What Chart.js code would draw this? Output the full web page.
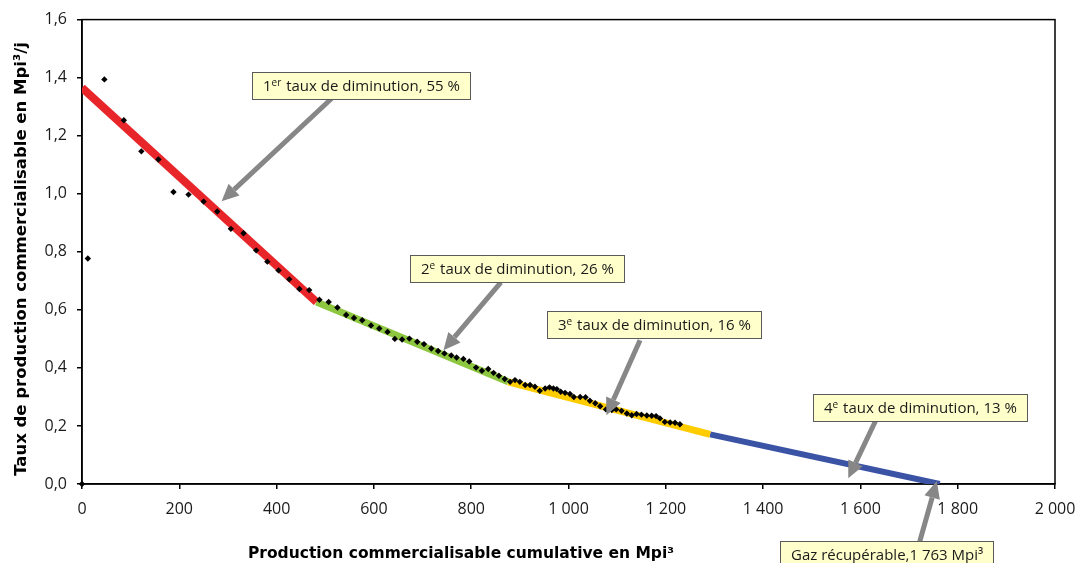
<!DOCTYPE html>
<html>
<head>
<meta charset="utf-8">
<title>Taux de production commercialisable</title>
<script src="https://cdn.jsdelivr.net/npm/chart.js@4.4.1/dist/chart.umd.min.js"></script>
<style>
  html, body { margin: 0; padding: 0; background: #ffffff; }
  canvas { display: block; }
</style>
</head>
<body>
<canvas id="declineChart" width="1087" height="563"></canvas>
<script>
// Observed points: cumulative production (Mpi³) vs production rate (Mpi³/j)
const cumulProd = [
  0, 12, 46, 86, 122, 157, 188, 219, 250, 278, 306, 332, 358, 381, 404, 426, 447, 467,
  488, 507, 525, 543, 559, 576, 594, 611, 628, 643, 658, 673, 689, 703, 718, 732, 745,
  759, 770, 784, 796, 810, 822, 835, 846, 857, 869, 880, 890, 900, 911, 921, 931, 941,
  952, 961, 969, 976, 984, 993, 1003, 1011, 1024, 1035, 1044, 1055, 1065, 1077, 1089,
  1098, 1109, 1120, 1130, 1140, 1150, 1161, 1171, 1180, 1188, 1198, 1209, 1219, 1229
];
const prodRate = [
  0, 0.777, 1.394, 1.253, 1.146, 1.118, 1.006, 0.997, 0.973, 0.939, 0.879, 0.864, 0.805,
  0.766, 0.736, 0.705, 0.672, 0.668, 0.635, 0.627, 0.608, 0.582, 0.572, 0.564, 0.546,
  0.536, 0.524, 0.500, 0.498, 0.501, 0.490, 0.482, 0.467, 0.458, 0.450, 0.443, 0.436,
  0.431, 0.422, 0.401, 0.390, 0.396, 0.383, 0.373, 0.362, 0.352, 0.358, 0.352, 0.341,
  0.341, 0.335, 0.321, 0.329, 0.333, 0.329, 0.327, 0.318, 0.314, 0.310, 0.300, 0.300,
  0.299, 0.287, 0.278, 0.268, 0.257, 0.255, 0.257, 0.252, 0.243, 0.237, 0.241, 0.239,
  0.236, 0.235, 0.234, 0.226, 0.214, 0.212, 0.211, 0.206
];

// Fitted decline segments (end points)
const decline1X = [0, 482];
const decline1Y = [1.365, 0.627];
const decline2X = [482, 876];
const decline2Y = [0.627, 0.352];
const decline3X = [876, 1291];
const decline3Y = [0.352, 0.171];
const decline4X = [1291, 1763];
const decline4Y = [0.171, 0];

// Axis ticks
const xTicks = [0, 200, 400, 600, 800, 1000, 1200, 1400, 1600, 1800, 2000];
const xTickLabels = ['0', '200', '400', '600', '800', '1 000', '1 200', '1 400', '1 600', '1 800', '2 000'];
const yTicks = [0, 0.2, 0.4, 0.6, 0.8, 1.0, 1.2, 1.4, 1.6];
const yTickLabels = ['0,0', '0,2', '0,4', '0,6', '0,8', '1,0', '1,2', '1,4', '1,6'];

const xTitle = 'Production commercialisable cumulative en Mpi³';
const yTitle = 'Taux de production commercialisable en Mpi³/j';

// Callouts: text parts [text, superscript?], box top-left, arrow start and tip (data units)
const callouts = [
  { parts: [['1', false], ['er', true], [' taux de diminution, 55 %', false]],
    box: [349, 1.421], from: [513, 1.328], to: [287, 0.974] },
  { parts: [['2', false], ['e', true], [' taux de diminution, 26 %', false]],
    box: [674, 0.788], from: [861, 0.695], to: [743, 0.461] },
  { parts: [['3', false], ['e', true], [' taux de diminution, 16 %', false]],
    box: [955, 0.595], from: [1147, 0.495], to: [1078, 0.237] },
  { parts: [['4', false], ['e', true], [' taux de diminution, 13 %', false]],
    box: [1503, 0.310], from: [1631, 0.217], to: [1575, 0.020] },
  { parts: [['Gaz récupérable,1 763 Mpi³', false]],
    box: [1435, -0.198], from: [1722, -0.198], to: [1757, 0.010] }
];

const FONT = '"Open Sans", Lato, sans-serif';
const TITLE_FONT = '"DejaVu Sans", "Open Sans", sans-serif';

function toPoints(xs, ys) {
  return xs.map((v, i) => ({ x: v, y: ys[i] }));
}

function drawArrow(ctx, x1, y1, x2, y2) {
  const ang = Math.atan2(y2 - y1, x2 - x1);
  const headLen = 17;
  const headHalf = 8;
  const bx = x2 - headLen * Math.cos(ang);
  const by = y2 - headLen * Math.sin(ang);
  ctx.strokeStyle = '#878787';
  ctx.fillStyle = '#878787';
  ctx.lineWidth = 5;
  ctx.lineCap = 'butt';
  ctx.beginPath();
  ctx.moveTo(x1, y1);
  ctx.lineTo(bx, by);
  ctx.stroke();
  ctx.beginPath();
  ctx.moveTo(x2, y2);
  ctx.lineTo(bx + headHalf * Math.sin(ang), by - headHalf * Math.cos(ang));
  ctx.lineTo(bx - headHalf * Math.sin(ang), by + headHalf * Math.cos(ang));
  ctx.closePath();
  ctx.fill();
}

function drawCallout(ctx, left, top, parts) {
  const baseFont = '15px ' + FONT;
  const supFont = '10px ' + FONT;
  let w = 0;
  parts.forEach(p => {
    ctx.font = p[1] ? supFont : baseFont;
    w += ctx.measureText(p[0]).width + (p[1] ? 1 : 0);
  });
  const h = 27;
  const boxW = Math.round(w + 21);
  ctx.fillStyle = '#ffffcc';
  ctx.fillRect(left, top, boxW, h);
  ctx.strokeStyle = '#5a5a5a';
  ctx.lineWidth = 1;
  ctx.strokeRect(left + 0.5, top + 0.5, boxW, h);
  let tx = left + 11;
  const baseY = top + 19;
  ctx.fillStyle = '#1a1a1a';
  ctx.textBaseline = 'alphabetic';
  ctx.textAlign = 'left';
  parts.forEach(p => {
    ctx.font = p[1] ? supFont : baseFont;
    ctx.fillText(p[0], tx, p[1] ? baseY - 5 : baseY);
    tx += ctx.measureText(p[0]).width + (p[1] ? 1 : 0);
  });
}

// Frame around the plot area
const framePlugin = {
  id: 'frame',
  beforeDatasetsDraw(chart) {
    const { ctx, chartArea: a } = chart;
    ctx.save();
    ctx.strokeStyle = '#000';
    ctx.lineWidth = 1.5;
    ctx.strokeRect(a.left, a.top, a.right - a.left, a.bottom - a.top);
    ctx.restore();
  }
};

// Arrows, callout boxes and axis titles
const calloutPlugin = {
  id: 'callouts',
  afterDatasetsDraw(chart) {
    const { ctx, scales: { x, y } } = chart;
    ctx.save();
    callouts.forEach(c => {
      drawArrow(ctx,
        x.getPixelForValue(c.from[0]), y.getPixelForValue(c.from[1]),
        x.getPixelForValue(c.to[0]), y.getPixelForValue(c.to[1]));
    });
    callouts.forEach(c => {
      drawCallout(ctx, Math.round(x.getPixelForValue(c.box[0])), Math.round(y.getPixelForValue(c.box[1])), c.parts);
    });
    ctx.restore();
  },
  afterDraw(chart) {
    const { ctx } = chart;
    ctx.save();
    ctx.fillStyle = '#000';
    ctx.textAlign = 'center';
    ctx.textBaseline = 'alphabetic';
    ctx.font = 'bold 15.5px ' + TITLE_FONT;
    ctx.fillText(xTitle, 461, 558);
    ctx.font = 'bold 16.5px ' + TITLE_FONT;
    ctx.translate(26, 259);
    ctx.rotate(-Math.PI / 2);
    ctx.fillText(yTitle, 0, 0);
    ctx.restore();
  }
};

const ctx = document.getElementById('declineChart').getContext('2d');
const declineChart = new Chart(ctx, {
  type: 'scatter',
  data: {
    datasets: [
      {
        label: 'Données',
        data: toPoints(cumulProd, prodRate),
        pointStyle: 'rectRot',
        pointRadius: 3.2,
        backgroundColor: '#000',
        borderColor: '#000',
        borderWidth: 0,
        showLine: false,
        clip: false,
        order: 0
      },
      {
        label: '1er taux',
        data: toPoints(decline1X, decline1Y),
        showLine: true,
        borderColor: '#e8262a',
        borderWidth: 8,
        pointRadius: 0,
        order: 1
      },
      {
        label: '2e taux',
        data: toPoints(decline2X, decline2Y),
        showLine: true,
        borderColor: '#8dc63f',
        borderWidth: 7,
        pointRadius: 0,
        order: 1
      },
      {
        label: '3e taux',
        data: toPoints(decline3X, decline3Y),
        showLine: true,
        borderColor: '#ffcc00',
        borderWidth: 7,
        pointRadius: 0,
        order: 1
      },
      {
        label: '4e taux',
        data: toPoints(decline4X, decline4Y),
        showLine: true,
        borderColor: '#3a53a4',
        borderWidth: 6,
        pointRadius: 0,
        order: 1
      }
    ]
  },
  options: {
    responsive: false,
    devicePixelRatio: 1,
    animation: false,
    layout: { padding: { top: 19, right: 32, left: 0, bottom: 0 } },
    plugins: {
      legend: { display: false },
      tooltip: { enabled: false }
    },
    scales: {
      x: {
        type: 'linear',
        min: 0,
        max: 2000,
        afterBuildTicks: scale => { scale.ticks = xTicks.map(v => ({ value: v })); },
        afterFit: scale => { scale.height = 79; },
        grid: { display: true, drawOnChartArea: false, drawTicks: true, tickLength: 5, color: '#000', lineWidth: 1.5 },
        border: { display: true, color: '#000', width: 1.5 },
        ticks: {
          color: '#1a1a1a',
          font: { family: FONT, size: 16 },
          padding: 11,
          maxRotation: 0,
          callback: (value, index) => xTickLabels[index]
        }
      },
      y: {
        type: 'linear',
        min: 0,
        max: 1.6,
        afterBuildTicks: scale => { scale.ticks = yTicks.map(v => ({ value: v })); },
        afterFit: scale => { scale.width = 82; },
        grid: { display: true, drawOnChartArea: false, drawTicks: true, tickLength: 5, color: '#000', lineWidth: 1.5 },
        border: { display: true, color: '#000', width: 1.5 },
        ticks: {
          color: '#1a1a1a',
          font: { family: FONT, size: 16 },
          padding: 10,
          callback: (value, index) => yTickLabels[index]
        }
      }
    }
  },
  plugins: [framePlugin, calloutPlugin]
});
</script>
</body>
</html>
